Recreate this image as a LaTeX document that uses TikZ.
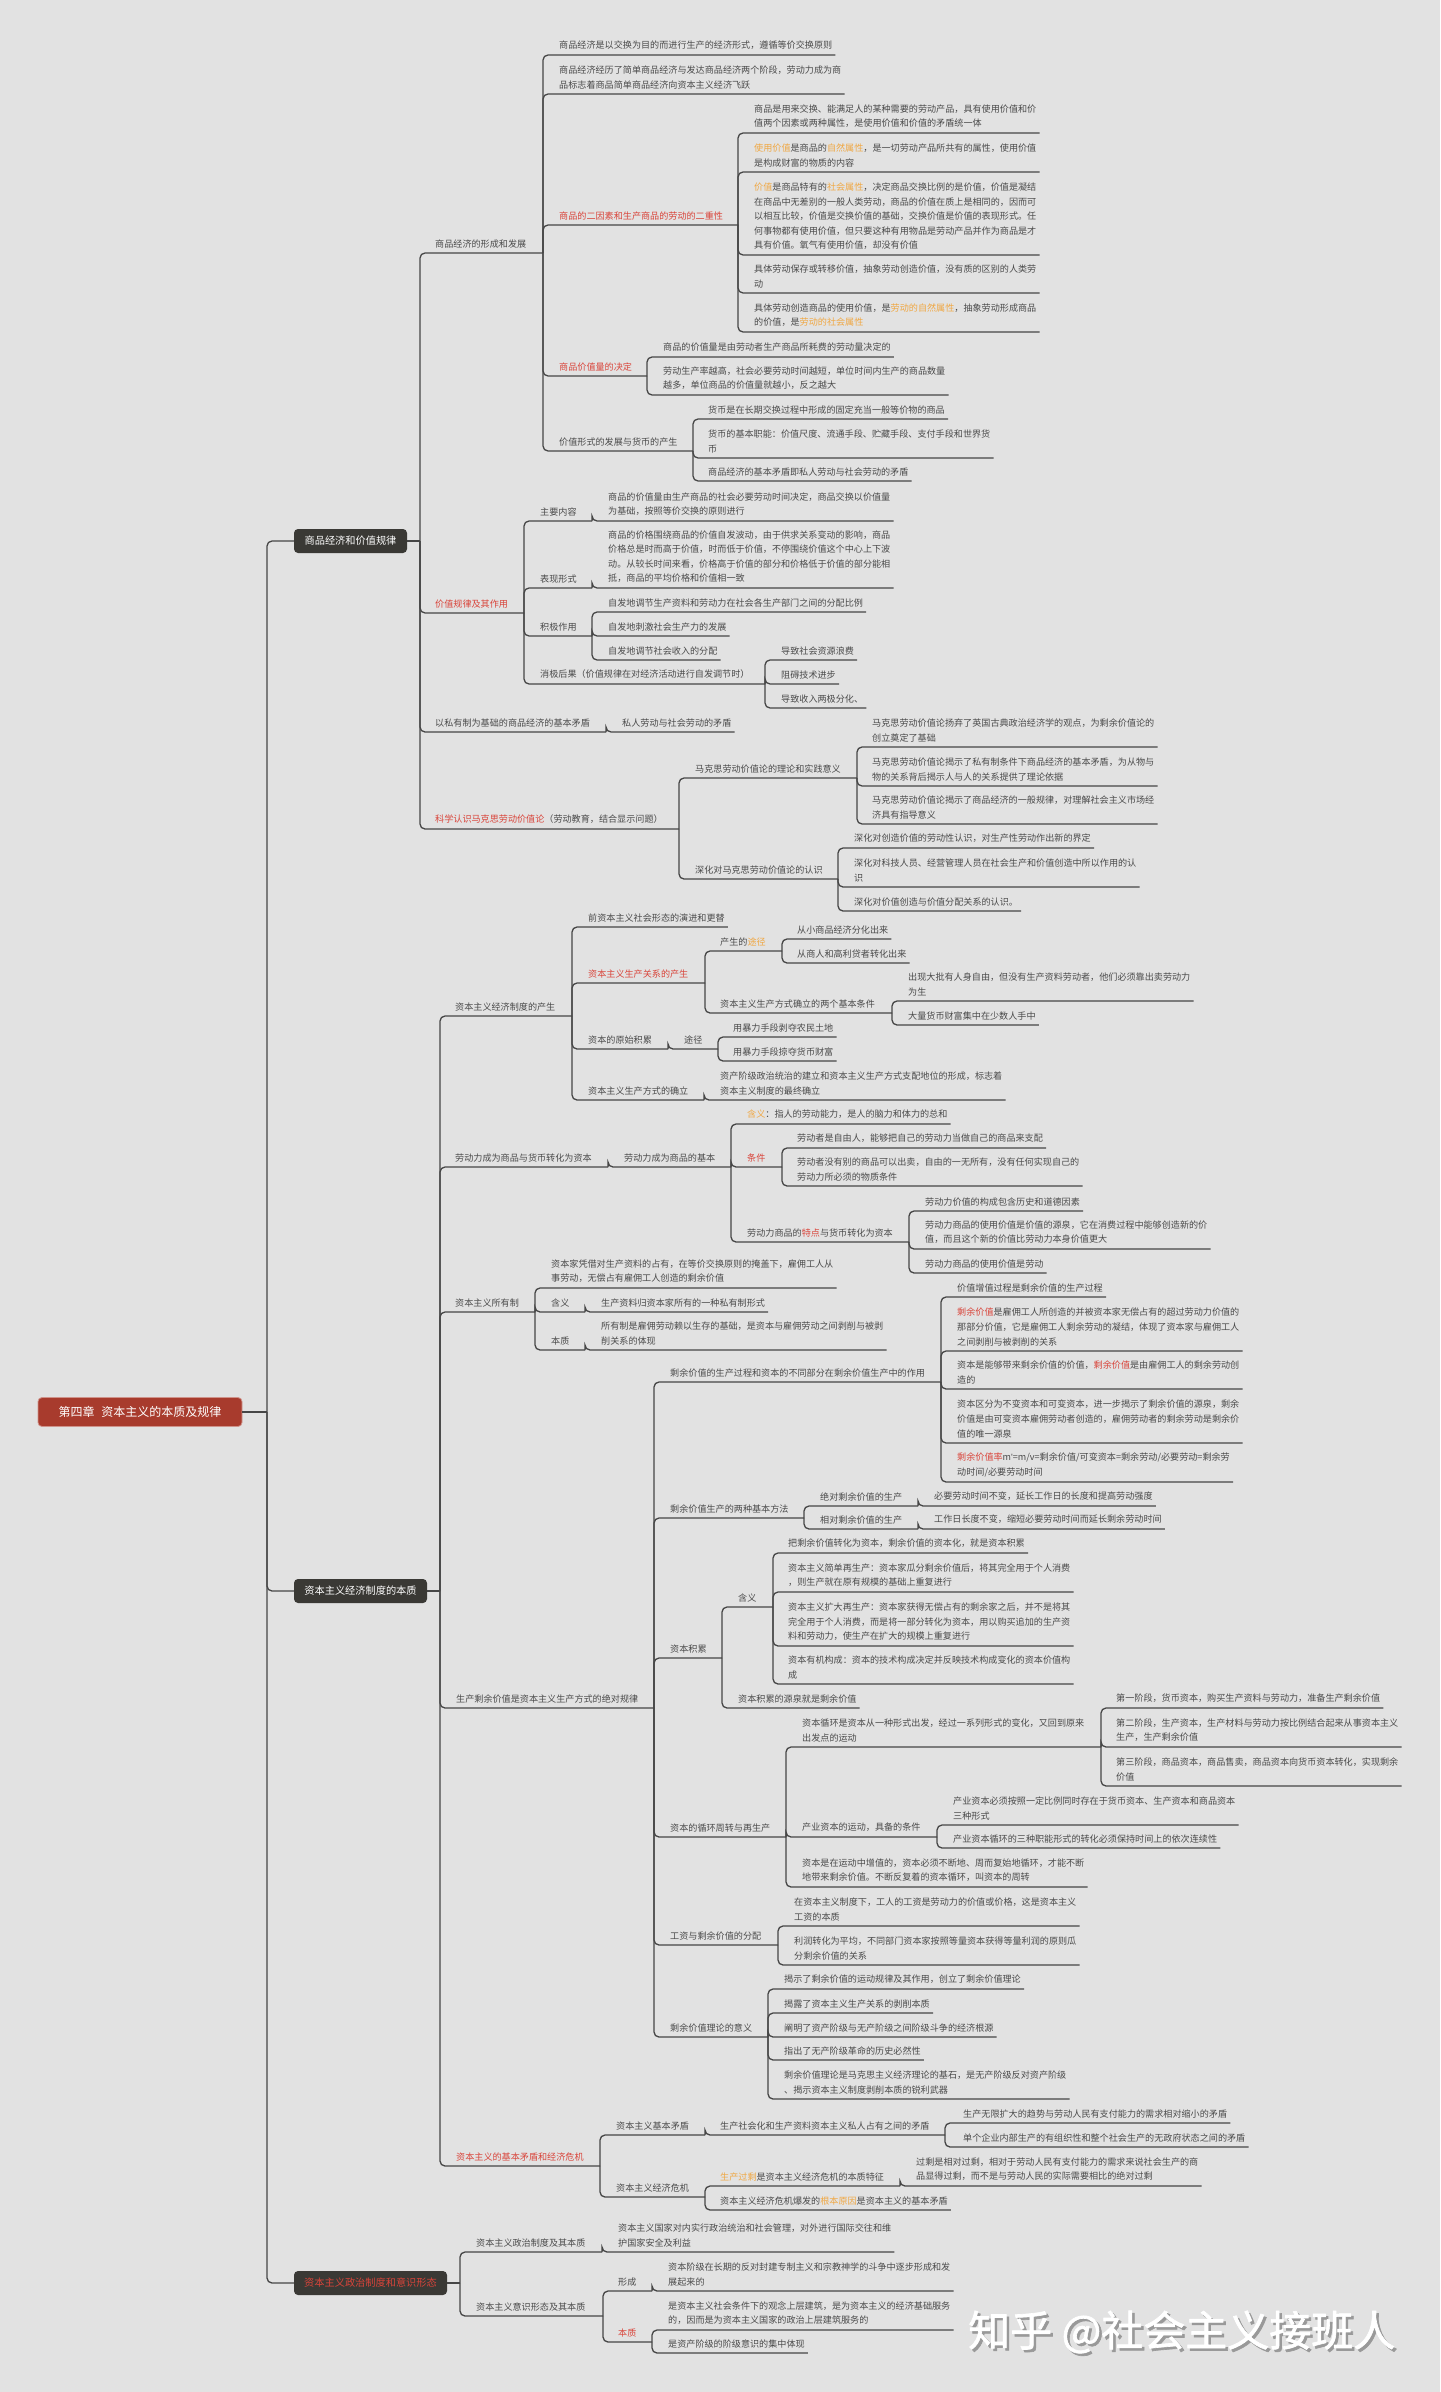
\documentclass[tikz,border=0pt]{standalone}
\usepackage{fontspec}
\setmainfont{Noto Sans CJK SC}
\newfontfamily\wmfont[FakeBold=1.5]{Noto Sans CJK SC}
\newfontfamily\latinf{Liberation Sans}
\usetikzlibrary{calc}
\definecolor{bgc}{HTML}{E2E2E2}
\definecolor{txc}{HTML}{4A4A4A}
\definecolor{lnc}{HTML}{464646}
\definecolor{hlr}{HTML}{D9443A}
\definecolor{hlo}{HTML}{F0A742}
\definecolor{boxc}{HTML}{3A3935}
\definecolor{rootc}{HTML}{A83B2D}
\newcommand\HLo[1]{\textcolor{hlo}{#1}}
\newcommand\HLr[1]{\textcolor{hlr}{#1}}
% inner node: [style]{name}{parent junction}{x}{underline y}{own junction x}{text}
\newcommand\Inner[7][t]{\node[#1] (#2) at (#4,#5-5) {#7};\coordinate (#2j) at (#6,#5);\draw[conn] (#3) |- (#2j);}
% leaf node: {name}{parent junction}{x}{underline y}{text}
\newcommand\Leaf[5]{\node[t] (#1) at (#3,#4-5) {#5};\draw[conn] (#2) |- ($(#1.east |- 0,#4)+(3,0)$);}
\begin{document}
\begin{tikzpicture}[x=1pt,y=-1pt,
  t/.style={font=\fontsize{9.1}{14.6}\selectfont, text=txc, inner sep=0pt, align=left, anchor=south west},
  tr/.style={t, text=hlr},
  conn/.style={draw=lnc, line width=1.3pt, rounded corners=5pt},
  mainbox/.style={fill=boxc, rounded corners=4pt, text=white, font=\fontsize{10.2}{12}\selectfont, minimum height=24pt, inner sep=0pt},
]
\fill[bgc] (0,0) rectangle (1440,2392);
\useasboundingbox (0,0) rectangle (1440,2392);

% root and main branches
\node[fill=rootc, draw=rootc!55!white, line width=0.8pt, rounded corners=4pt, minimum width=204pt, minimum height=29pt, inner sep=0pt, text=white, font=\fontsize{12}{14}\selectfont] (root) at (140,1412) {第四章\hspace{7pt}资本主义的本质及规律};
\coordinate (rootj) at (267,1412);
\draw[conn] (root.east) -- (rootj);
\node[mainbox, minimum width=113pt] (M1) at (350.5,541) {商品经济和价值规律};
\node[mainbox, minimum width=133pt] (M2) at (360.5,1591) {资本主义经济制度的本质};
\node[mainbox, minimum width=153pt, text=hlr] (M3) at (370.5,2283) {资本主义政治制度和意识形态};
\foreach \m in {M1,M2,M3} \draw[conn] (rootj) |- (\m.west);
\coordinate (M1j) at (420,541); \draw[conn] (M1.east) -- (M1j);
\coordinate (M2j) at (440,1591); \draw[conn] (M2.east) -- (M2j);
\coordinate (M3j) at (460,2283); \draw[conn] (M3.east) -- (M3j);

% ===== Section 1 =====
\Inner{A1}{M1j}{435}{253}{543}{商品经济的形成和发展}
\Leaf{A1a}{A1j}{559}{55}{商品经济是以交换为目的而进行生产的经济形式，遵循等价交换原则}
\Leaf{A1b}{A1j}{559}{94}{商品经济经历了简单商品经济与发达商品经济两个阶段，劳动力成为商\\品标志着商品简单商品经济向资本主义经济飞跃}
\Inner[tr]{A1c}{A1j}{559}{225}{738}{商品的二因素和生产商品的劳动的二重性}
\Leaf{A1c1}{A1cj}{754}{133}{商品是用来交换、能满足人的某种需要的劳动产品，具有使用价值和价\\值两个因素或两种属性，是使用价值和价值的矛盾统一体}
\Leaf{A1c2}{A1cj}{754}{172}{\HLo{使用价值}是商品的\HLo{自然属性}，是一切劳动产品所共有的属性，使用价值\\是构成财富的物质的内容}
\Leaf{A1c3}{A1cj}{754}{255}{\HLo{价值}是商品特有的\HLo{社会属性}，决定商品交换比例的是价值，价值是凝结\\在商品中无差别的一般人类劳动，商品的价值在质上是相同的，因而可\\以相互比较，价值是交换价值的基础，交换价值是价值的表现形式。任\\何事物都有使用价值，但只要这种有用物品是劳动产品并作为商品是才\\具有价值。氧气有使用价值，却没有价值}
\Leaf{A1c4}{A1cj}{754}{293}{具体劳动保存或转移价值，抽象劳动创造价值，没有质的区别的人类劳\\动}
\Leaf{A1c5}{A1cj}{754}{332}{具体劳动创造商品的使用价值，是\HLo{劳动的自然属性}，抽象劳动形成商品\\的价值，是\HLo{劳动的社会属性}}
\Inner[tr]{A1d}{A1j}{559}{376}{647}{商品价值量的决定}
\Leaf{A1d1}{A1dj}{663}{357}{商品的价值量是由劳动者生产商品所耗费的劳动量决定的}
\Leaf{A1d2}{A1dj}{663}{395}{劳动生产率越高，社会必要劳动时间越短，单位时间内生产的商品数量\\越多，单位商品的价值量就越小，反之越大}
\Inner{A1e}{A1j}{559}{451}{693}{价值形式的发展与货币的产生}
\Leaf{A1e1}{A1ej}{708}{419}{货币是在长期交换过程中形成的固定充当一般等价物的商品}
\Leaf{A1e2}{A1ej}{708}{458}{货币的基本职能：价值尺度、流通手段、贮藏手段、支付手段和世界货\\币}
\Leaf{A1e3}{A1ej}{708}{481}{商品经济的基本矛盾即私人劳动与社会劳动的矛盾}

\Inner[tr]{A2}{M1j}{435}{613}{524}{价值规律及其作用}
\Inner{A2a}{A2j}{540}{521}{592}{主要内容}
\Leaf{A2a1}{A2aj}{608}{521}{商品的价值量由生产商品的社会必要劳动时间决定，商品交换以价值量\\为基础，按照等价交换的原则进行}
\Inner{A2b}{A2j}{540}{588}{592}{表现形式}
\Leaf{A2b1}{A2bj}{608}{588}{商品的价格围绕商品的价值自发波动，由于供求关系变动的影响，商品\\价格总是时而高于价值，时而低于价值，不停围绕价值这个中心上下波\\动。从较长时间来看，价格高于价值的部分和价格低于价值的部分能相\\抵，商品的平均价格和价值相一致}
\Inner{A2c}{A2j}{540}{636}{592}{积极作用}
\Leaf{A2c1}{A2cj}{608}{612}{自发地调节生产资料和劳动力在社会各生产部门之间的分配比例}
\Leaf{A2c2}{A2cj}{608}{636}{自发地刺激社会生产力的发展}
\Leaf{A2c3}{A2cj}{608}{660}{自发地调节社会收入的分配}
\Inner{A2d}{A2j}{540}{684}{765}{消极后果（价值规律在对经济活动进行自发调节时）}
\Leaf{A2d1}{A2dj}{781}{660}{导致社会资源浪费}
\Leaf{A2d2}{A2dj}{781}{684}{阻碍技术进步}
\Leaf{A2d3}{A2dj}{781}{708}{导致收入两极分化、}

\Inner{A3}{M1j}{435}{732}{606}{以私有制为基础的商品经济的基本矛盾}
\Leaf{A3a}{A3j}{622}{732}{私人劳动与社会劳动的矛盾}

\Inner{A4}{M1j}{435}{829}{679}{\HLr{科学认识马克思劳动价值论}（劳动教育，结合显示问题）}
\Inner{A4a}{A4j}{695}{778}{857}{马克思劳动价值论的理论和实践意义}
\Leaf{A4a1}{A4aj}{872}{747}{马克思劳动价值论扬弃了英国古典政治经济学的观点，为剩余价值论的\\创立奠定了基础}
\Leaf{A4a2}{A4aj}{872}{786}{马克思劳动价值论揭示了私有制条件下商品经济的基本矛盾，为从物与\\物的关系背后揭示人与人的关系提供了理论依据}
\Leaf{A4a3}{A4aj}{872}{824}{马克思劳动价值论揭示了商品经济的一般规律，对理解社会主义市场经\\济具有指导意义}
\Inner{A4b}{A4j}{695}{879}{838}{深化对马克思劳动价值论的认识}
\Leaf{A4b1}{A4bj}{854}{848}{深化对创造价值的劳动性认识，对生产性劳动作出新的界定}
\Leaf{A4b2}{A4bj}{854}{887}{深化对科技人员、经营管理人员在社会生产和价值创造中所以作用的认\\识}
\Leaf{A4b3}{A4bj}{854}{911}{深化对价值创造与价值分配关系的认识。}

% ===== Section 2 =====
\Inner{B1}{M2j}{455}{1016}{572}{资本主义经济制度的产生}
\Leaf{B1a}{B1j}{588}{927}{前资本主义社会形态的演进和更替}
\Inner[tr]{B1b}{B1j}{588}{983}{705}{资本主义生产关系的产生}
\Inner{B1b1}{B1bj}{720}{951}{782}{产生的\HLo{途径}}
\Leaf{B1b1a}{B1b1j}{797}{939}{从小商品经济分化出来}
\Leaf{B1b1b}{B1b1j}{797}{963}{从商人和高利贷者转化出来}
\Inner{B1b2}{B1bj}{720}{1013}{892}{资本主义生产方式确立的两个基本条件}
\Leaf{B1b2a}{B1b2j}{908}{1001}{出现大批有人身自由，但没有生产资料劳动者，他们必须靠出卖劳动力\\为生}
\Leaf{B1b2b}{B1b2j}{908}{1025}{大量货币财富集中在少数人手中}
\Inner{B1c}{B1j}{588}{1049}{668}{资本的原始积累}
\Inner{B1c1}{B1cj}{684}{1049}{718}{途径}
\Leaf{B1c1a}{B1c1j}{733}{1037}{用暴力手段剥夺农民土地}
\Leaf{B1c1b}{B1c1j}{733}{1061}{用暴力手段掠夺货币财富}
\Inner{B1d}{B1j}{588}{1100}{704}{资本主义生产方式的确立}
\Leaf{B1d1}{B1dj}{720}{1100}{资产阶级政治统治的建立和资本主义生产方式支配地位的形成，标志着\\资本主义制度的最终确立}

\Inner{B2}{M2j}{455}{1167}{608}{劳动力成为商品与货币转化为资本}
\Inner{B2a}{B2j}{624}{1167}{731}{劳动力成为商品的基本}
\Leaf{B2a1}{B2aj}{747}{1124}{\HLo{含义}：指人的劳动能力，是人的脑力和体力的总和}
\Inner[tr]{B2a2}{B2aj}{747}{1167}{782}{条件}
\Leaf{B2a2a}{B2a2j}{797}{1148}{劳动者是自由人，能够把自己的劳动力当做自己的商品来支配}
\Leaf{B2a2b}{B2a2j}{797}{1186}{劳动者没有别的商品可以出卖，自由的一无所有，没有任何实现自己的\\劳动力所必须的物质条件}
\Inner{B2a3}{B2aj}{747}{1242}{909}{劳动力商品的\HLr{特点}与货币转化为资本}
\Leaf{B2a3a}{B2a3j}{925}{1211}{劳动力价值的构成包含历史和道德因素}
\Leaf{B2a3b}{B2a3j}{925}{1249}{劳动力商品的使用价值是价值的源泉，它在消费过程中能够创造新的价\\值，而且这个新的价值比劳动力本身价值更大}
\Leaf{B2a3c}{B2a3j}{925}{1273}{劳动力商品的使用价值是劳动}

\Inner{B3}{M2j}{455}{1312}{535}{资本主义所有制}
\Leaf{B3a}{B3j}{551}{1288}{资本家凭借对生产资料的占有，在等价交换原则的掩盖下，雇佣工人从\\事劳动，无偿占有雇佣工人创造的剩余价值}
\Inner{B3b}{B3j}{551}{1312}{585}{含义}
\Leaf{B3b1}{B3bj}{601}{1312}{生产资料归资本家所有的一种私有制形式}
\Inner{B3c}{B3j}{551}{1350}{585}{本质}
\Leaf{B3c1}{B3cj}{601}{1350}{所有制是雇佣劳动赖以生存的基础，是资本与雇佣劳动之间剥削与被剥\\削关系的体现}

\Inner{B4}{M2j}{456}{1708}{654}{生产剩余价值是资本主义生产方式的绝对规律}
\Inner{B4a}{B4j}{670}{1382}{941}{剩余价值的生产过程和资本的不同部分在剩余价值生产中的作用}
\Leaf{B4a1}{B4aj}{957}{1297}{价值增值过程是剩余价值的生产过程}
\Leaf{B4a2}{B4aj}{957}{1351}{\HLr{剩余价值}是雇佣工人所创造的并被资本家无偿占有的超过劳动力价值的\\那部分价值，它是雇佣工人剩余劳动的凝结，体现了资本家与雇佣工人\\之间剥削与被剥削的关系}
\Leaf{B4a3}{B4aj}{957}{1389}{资本是能够带来剩余价值的价值，\HLr{剩余价值}是由雇佣工人的剩余劳动创\\造的}
\Leaf{B4a4}{B4aj}{957}{1443}{资本区分为不变资本和可变资本，进一步揭示了剩余价值的源泉，剩余\\价值是由可变资本雇佣劳动者创造的，雇佣劳动者的剩余劳动是剩余价\\值的唯一源泉}
\Leaf{B4a5}{B4aj}{957}{1482}{\HLr{剩余价值率}m{\latinf '}=m/v=剩余价值/可变资本=剩余劳动/必要劳动=剩余劳\\动时间/必要劳动时间}
\Inner{B4b}{B4j}{670}{1518}{804}{剩余价值生产的两种基本方法}
\Inner{B4b1}{B4bj}{820}{1506}{918}{绝对剩余价值的生产}
\Leaf{B4b1a}{B4b1j}{934}{1506}{必要劳动时间不变，延长工作日的长度和提高劳动强度}
\Inner{B4b2}{B4bj}{820}{1529}{918}{相对剩余价值的生产}
\Leaf{B4b2a}{B4b2j}{934}{1529}{工作日长度不变，缩短必要劳动时间而延长剩余劳动时间}
\Inner{B4c}{B4j}{670}{1658}{722}{资本积累}
\Inner{B4c1}{B4cj}{738}{1607}{773}{含义}
\Leaf{B4c1a}{B4c1j}{788}{1553}{把剩余价值转化为资本，剩余价值的资本化，就是资本积累}
\Leaf{B4c1b}{B4c1j}{788}{1592}{资本主义简单再生产：资本家瓜分剩余价值后，将其完全用于个人消费\\，则生产就在原有规模的基础上重复进行}
\Leaf{B4c1c}{B4c1j}{788}{1646}{资本主义扩大再生产：资本家获得无偿占有的剩余家之后，并不是将其\\完全用于个人消费，而是将一部分转化为资本，用以购买追加的生产资\\料和劳动力，使生产在扩大的规模上重复进行}
\Leaf{B4c1d}{B4c1j}{788}{1684}{资本有机构成：资本的技术构成决定并反映技术构成变化的资本价值构\\成}
\Leaf{B4c2}{B4cj}{738}{1708}{资本积累的源泉就是剩余价值}
\Inner{B4d}{B4j}{670}{1837}{786}{资本的循环周转与再生产}
\Inner{B4d1}{B4dj}{802}{1747}{1101}{资本循环是资本从一种形式出发，经过一系列形式的变化，又回到原来\\出发点的运动}
\Leaf{B4d1a}{B4d1j}{1116}{1708}{第一阶段，货币资本，购买生产资料与劳动力，准备生产剩余价值}
\Leaf{B4d1b}{B4d1j}{1116}{1747}{第二阶段，生产资本，生产材料与劳动力按比例结合起来从事资本主义\\生产，生产剩余价值}
\Leaf{B4d1c}{B4d1j}{1116}{1786}{第三阶段，商品资本，商品售卖，商品资本向货币资本转化，实现剩余\\价值}
\Inner{B4d2}{B4dj}{802}{1837}{937}{产业资本的运动，具备的条件}
\Leaf{B4d2a}{B4d2j}{953}{1825}{产业资本必须按照一定比例同时存在于货币资本、生产资本和商品资本\\三种形式}
\Leaf{B4d2b}{B4d2j}{953}{1848}{产业资本循环的三种职能形式的转化必须保持时间上的依次连续性}
\Leaf{B4d3}{B4dj}{802}{1887}{资本是在运动中增值的，资本必须不断地、周而复始地循环，才能不断\\地带来剩余价值。不断反复着的资本循环，叫资本的周转}
\Inner{B4e}{B4j}{670}{1945}{778}{工资与剩余价值的分配}
\Leaf{B4e1}{B4ej}{794}{1926}{在资本主义制度下，工人的工资是劳动力的价值或价格，这是资本主义\\工资的本质}
\Leaf{B4e2}{B4ej}{794}{1965}{利润转化为平均，不同部门资本家按照等量资本获得等量利润的原则瓜\\分剩余价值的关系}
\Inner{B4f}{B4j}{670}{2037}{768}{剩余价值理论的意义}
\Leaf{B4f1}{B4fj}{784}{1989}{揭示了剩余价值的运动规律及其作用，创立了剩余价值理论}
\Leaf{B4f2}{B4fj}{784}{2013}{揭露了资本主义生产关系的剥削本质}
\Leaf{B4f3}{B4fj}{784}{2037}{阐明了资产阶级与无产阶级之间阶级斗争的经济根源}
\Leaf{B4f4}{B4fj}{784}{2060}{指出了无产阶级革命的历史必然性}
\Leaf{B4f5}{B4fj}{784}{2099}{剩余价值理论是马克思主义经济理论的基石，是无产阶级反对资产阶级\\、揭示资本主义制度剥削本质的锐利武器}

\Inner[tr]{B5}{M2j}{456}{2166}{600}{资本主义的基本矛盾和经济危机}
\Inner{B5a}{B5j}{616}{2135}{705}{资本主义基本矛盾}
\Inner{B5a1}{B5aj}{720}{2135}{945}{生产社会化和生产资料资本主义私人占有之间的矛盾}
\Leaf{B5a1a}{B5a1j}{963}{2123}{生产无限扩大的趋势与劳动人民有支付能力的需求相对缩小的矛盾}
\Leaf{B5a1b}{B5a1j}{963}{2147}{单个企业内部生产的有组织性和整个社会生产的无政府状态之间的矛盾}
\Inner{B5b}{B5j}{616}{2197}{705}{资本主义经济危机}
\Inner{B5b1}{B5bj}{720}{2186}{900}{\HLo{生产过剩}是资本主义经济危机的本质特征}
\Leaf{B5b1a}{B5b1j}{916}{2186}{过剩是相对过剩，相对于劳动人民有支付能力的需求来说社会生产的商\\品显得过剩，而不是与劳动人民的实际需要相比的绝对过剩}
\Leaf{B5b2}{B5bj}{720}{2210}{资本主义经济危机爆发的\HLo{根本原因}是资本主义的基本矛盾}

% ===== Section 3 =====
\Inner{C1}{M3j}{476}{2252}{602}{资本主义政治制度及其本质}
\Leaf{C1a}{C1j}{618}{2252}{资本主义国家对内实行政治统治和社会管理，对外进行国际交往和维\\护国家安全及利益}
\Inner{C2}{M3j}{476}{2316}{603}{资本主义意识形态及其本质}
\Inner{C2a}{C2j}{618}{2291}{652}{形成}
\Leaf{C2a1}{C2aj}{668}{2291}{资本阶级在长期的反对封建专制主义和宗教神学的斗争中逐步形成和发\\展起来的}
\Inner[tr]{C2b}{C2j}{618}{2342}{652}{本质}
\Leaf{C2b1}{C2bj}{668}{2330}{是资本主义社会条件下的观念上层建筑，是为资本主义的经济基础服务\\的，因而是为资本主义国家的政治上层建筑服务的}
\Leaf{C2b2}{C2bj}{668}{2353}{是资产阶级的阶级意识的集中体现}

% watermark
\node[font=\wmfont\fontsize{42}{46}\selectfont, text=black!40, anchor=west, inner sep=0pt] (wmshadow) at (970.5,2334.5) {知乎 @社会主义接班人};
\node[font=\wmfont\fontsize{42}{46}\selectfont, text=white, anchor=west, inner sep=0pt] (wm) at (968,2332) {知乎 @社会主义接班人};
\end{tikzpicture}
\end{document}
